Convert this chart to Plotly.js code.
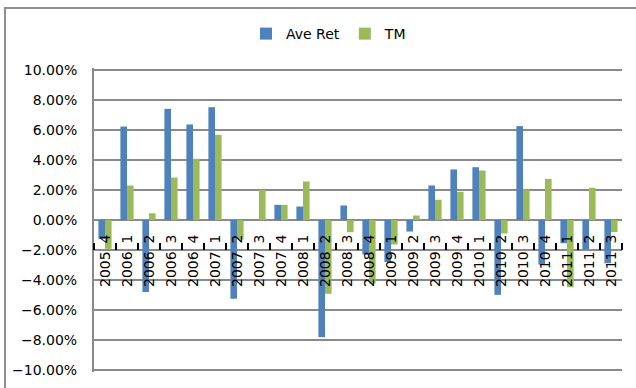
<!DOCTYPE html>
<html>
<head>
<meta charset="utf-8">
<script src="https://cdn.plot.ly/plotly-3.0.1.min.js"></script>
<style>
  html, body { margin: 0; padding: 0; overflow: hidden; background: #fff; }
  #gd { position: absolute; left: 0; top: 0; width: 636px; height: 388px; }
  #frm { position: absolute; left: 4px; top: 7px; width: 700px; height: 500px;
         border: 2px solid #8f8f8f; pointer-events: none; }
</style>
</head>
<body>
<div id="gd"></div>
<div id="frm"></div>
<script>
const categories = ['2005 4','2006 1','2006 2','2006 3','2006 4','2007 1','2007 2','2007 3','2007 4',
  '2008 1','2008 2','2008 3','2008 4','2009 1','2009 2','2009 3','2009 4',
  '2010 1','2010 2','2010 3','2010 4','2011 1','2011 2','2011 3'];
const years = ['2005','2006','2006','2006','2006','2007','2007','2007','2007',
  '2008','2008','2008','2008','2009','2009','2009','2009',
  '2010','2010','2010','2010','2011','2011','2011'];
const quarters = ['4','1','2','3','4','1','2','3','4',
  '1','2','3','4','1','2','3','4',
  '1','2','3','4','1','2','3'];
const aveRet = [-0.0125, 0.0623, -0.0480, 0.0741, 0.0637, 0.0752, -0.0525, 0.0000, 0.0101,
  0.0090, -0.0781, 0.0097, -0.0230, -0.0280, -0.0077, 0.0230, 0.0337,
  0.0352, -0.0499, 0.0626, -0.0297, -0.0155, -0.0195, -0.0288];
const tm = [-0.0192, 0.0230, 0.0045, 0.0283, 0.0408, 0.0568, -0.0130, 0.0200, 0.0101,
  0.0257, -0.0492, -0.0081, -0.0423, -0.0163, 0.0030, 0.0135, 0.0188,
  0.0330, -0.0090, 0.0203, 0.0274, -0.0448, 0.0215, -0.0080];
const yTicks = [-0.10, -0.08, -0.06, -0.04, -0.02, 0, 0.02, 0.04, 0.06, 0.08, 0.10];

const mkFont = () => ({family: 'DejaVu Sans', size: 14, color: '#000'});
const grid = '#8a8a8a';
const xRange = [-0.5, categories.length - 0.5];
const yEdge = 0.1 + 2 / 1500;
const yearLevel = -0.02;
const sepLen = 7 / 1500;

const traces = [
  {type: 'bar', name: 'Ave Ret', x: categories, y: aveRet, marker: {color: '#4f81bd'}},
  {type: 'bar', name: 'TM', x: categories, y: tm, marker: {color: '#9bbb59'}}
];

const yearLabels = categories.map((c, i) => ({
  x: c, y: yearLevel, xref: 'x', yref: 'y', text: years[i], textangle: -90,
  showarrow: false, xanchor: 'center', yanchor: 'top', font: mkFont(), borderpad: 0
}));

const shapes = [];
yTicks.forEach(v => shapes.push({type: 'line', xref: 'paper', yref: 'y', x0: 0, x1: 1,
  y0: v, y1: v, layer: 'below', line: {color: grid, width: 2}}));
for (let i = 0; i <= categories.length; i++) {
  const fx = i / categories.length;
  shapes.push({type: 'line', xref: 'paper', yref: 'y', x0: fx, x1: fx,
    y0: yearLevel, y1: yearLevel + sepLen, line: {color: '#000', width: 2}});
}

const layout = {
  width: 636, height: 388,
  margin: {l: 94, r: 14, t: 68, b: 16},
  paper_bgcolor: 'rgba(0,0,0,0)', plot_bgcolor: '#fff',
  barmode: 'group', bargap: 0.4, bargroupgap: 0,
  showlegend: true,
  legend: {orientation: 'h', x: 0.2879, xanchor: 'left', y: 1.1118, yanchor: 'middle',
           font: mkFont()},
  yaxis: {range: [-yEdge, yEdge], dtick: 0.02, tickformat: '.2%',
          showgrid: true, gridcolor: grid, gridwidth: 2,
          showline: true, linecolor: grid, linewidth: 2,
          zeroline: false, ticks: 'outside', ticklen: 12, tickcolor: 'rgba(0,0,0,0)',
          tickfont: mkFont()},
  xaxis: {type: 'category', range: xRange,
          anchor: 'free', position: 0.5,
          tickmode: 'array', tickvals: categories, ticktext: quarters,
          tickangle: -90, ticks: 'outside', ticklen: 8, tickcolor: 'rgba(0,0,0,0)',
          showgrid: false, showline: false, zeroline: false, tickfont: mkFont()},
  annotations: yearLabels,
  shapes: shapes
};

Plotly.newPlot('gd', traces, layout, {displayModeBar: false, staticPlot: true});
</script>
</body>
</html>
